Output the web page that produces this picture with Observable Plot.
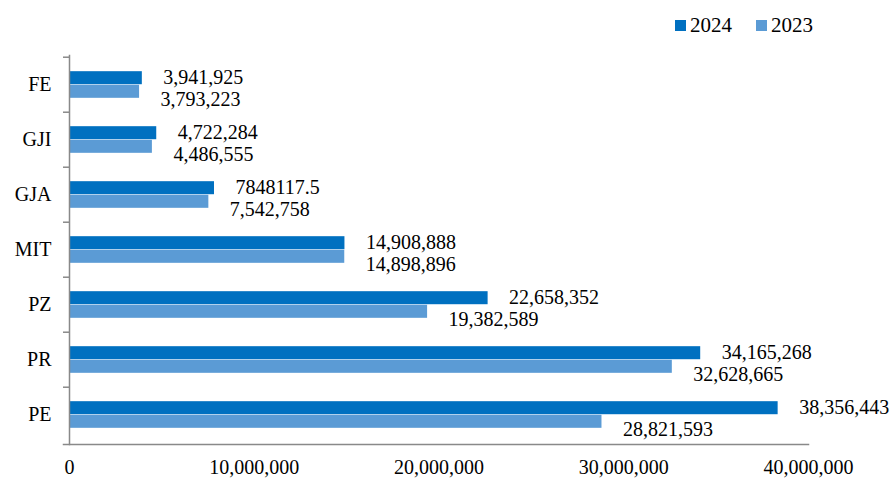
<!DOCTYPE html>
<html><head><meta charset="utf-8">
<script src="https://cdn.jsdelivr.net/npm/d3@7"></script>
<script src="https://cdn.jsdelivr.net/npm/@observablehq/plot@0.6"></script>
<style>
body{margin:0;background:#fff;font-family:"Liberation Serif","Times New Roman",serif;}
#wrap{position:relative;width:895px;height:478px;overflow:hidden;}
#legend{position:absolute;left:675px;top:9px;}
.lg-swatch{margin-right:24px !important;}
.lg-swatch > svg{margin-right:4px !important;}
</style></head><body><div id="wrap"><div id="chart"></div><div id="legend"></div></div>
<script>
const categories = ["FE","GJI","GJA","MIT","PZ","PR","PE"];
const series = ["2024","2023"];
const values2024 = [3941925, 4722284, 7848117.5, 14908888, 22658352, 34165268, 38356443];
const values2023 = [3793223, 4486555, 7542758, 14898896, 19382589, 32628665, 28821593];
const labels2024 = ["3,941,925","4,722,284","7848117.5","14,908,888","22,658,352","34,165,268","38,356,443"];
const labels2023 = ["3,793,223","4,486,555","7,542,758","14,898,896","19,382,589","32,628,665","28,821,593"];
const xTicks = [0, 10000000, 20000000, 30000000, 40000000];
const colors = ["#0070C0", "#5B9BD5"];

const r24 = categories.map((c, i) => ({cat: c, year: "2024", value: values2024[i], label: labels2024[i]}));
const r23 = categories.map((c, i) => ({cat: c, year: "2023", value: values2023[i], label: labels2023[i]}));

const W = 895, H = 478, mT = 55, mB = 34, mL = 69, mR = 87;
const step = (H - mT - mB) / categories.length;
const barH = 13.6, outer = (step - 2 * barH) / 2;
const axisColor = "#898989";

const chart = Plot.plot({
  width: W, height: H,
  marginTop: mT, marginBottom: mB, marginLeft: mL, marginRight: mR,
  style: {fontFamily: "Liberation Serif, Times New Roman, serif", fontSize: "20px", color: "#000", background: "#fff"},
  x: {domain: [0, 40000000]},
  y: {domain: categories, padding: 0},
  color: {domain: series, range: colors},
  marks: [
    Plot.barX(r24, {x: "value", y: "cat", fill: "year", insetTop: outer, insetBottom: outer + barH}),
    Plot.barX(r23, {x: "value", y: "cat", fill: "year", insetTop: outer + barH, insetBottom: outer}),
    Plot.frame({anchor: "left", stroke: axisColor, strokeWidth: 1.5}),
    Plot.frame({anchor: "bottom", stroke: axisColor, strokeWidth: 1.5, insetLeft: -6}),
    Plot.ruleY(categories, {y: d => d, x1: 0, x2: 0, insetLeft: -6, dy: -step / 2, stroke: axisColor, strokeWidth: 1.5}),
    Plot.axisX({ticks: xTicks, tickFormat: d3.format(","), tickSize: 0, tickPadding: 15, fontSize: 20, fill: "#000", label: null}),
    Plot.axisY({tickSize: 0, tickPadding: 18, fontSize: 20, fill: "#000", label: null}),
    Plot.text(r24, {x: "value", y: "cat", text: "label", textAnchor: "start", lineAnchor: "middle", dx: 21, dy: -7, fontSize: 20, fill: "#000"}),
    Plot.text(r23, {x: "value", y: "cat", text: "label", textAnchor: "start", lineAnchor: "middle", dx: 21, dy: 15, fontSize: 20, fill: "#000"})
  ]
});
document.getElementById("chart").append(chart);

const legend = Plot.legend({
  color: {domain: series, range: colors},
  swatchSize: 11,
  className: "lg",
  style: {fontFamily: "Liberation Serif, Times New Roman, serif", fontSize: "21px", color: "#000"}
});
document.getElementById("legend").append(legend);
</script>
</body></html>
